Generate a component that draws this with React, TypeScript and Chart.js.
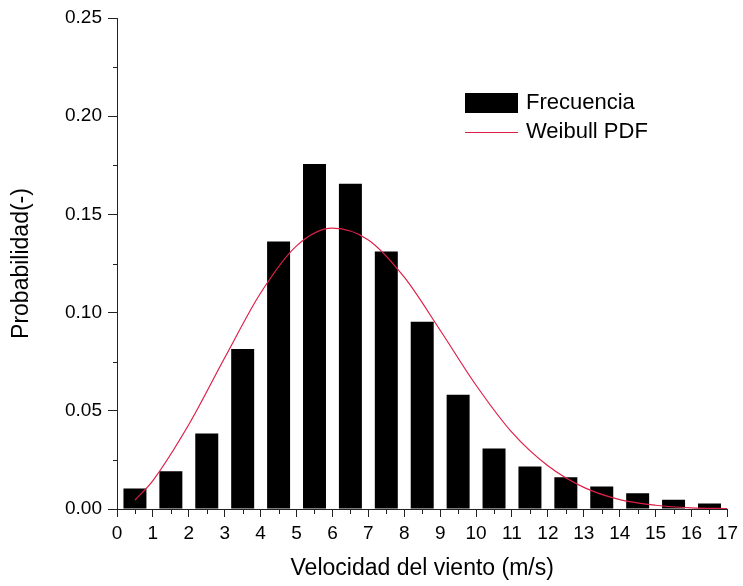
import React, { useEffect, useRef } from 'react';
import { Chart, registerables } from 'chart.js';

Chart.register(...registerables);

// ---- data ----
const binCenters = [0.5, 1.5, 2.5, 3.5, 4.5, 5.5, 6.5, 7.5, 8.5, 9.5, 10.5, 11.5, 12.5, 13.5, 14.5, 15.5, 16.5];
const frecuencia = [0.0104, 0.0192, 0.0384, 0.0815, 0.1362, 0.1757, 0.1656, 0.1311, 0.0954, 0.0582, 0.0308, 0.0216, 0.0162, 0.0114, 0.008, 0.0047, 0.0028];

const weibullX = [0.5, 1, 2, 3, 4, 5, 6, 7, 8, 9, 10, 11, 12, 13, 14, 15, 16, 17];
const weibullPdf = [0.0045, 0.0145, 0.043, 0.077, 0.11, 0.134, 0.143, 0.137, 0.118, 0.091, 0.063, 0.039, 0.022, 0.011, 0.0048, 0.0019, 0.0006, 0.0002];

const xTickValues = [0, 1, 2, 3, 4, 5, 6, 7, 8, 9, 10, 11, 12, 13, 14, 15, 16, 17];
const yTickValues = [0, 0.05, 0.1, 0.15, 0.2, 0.25];
const xMinorTicks = [0.5, 1.5, 2.5, 3.5, 4.5, 5.5, 6.5, 7.5, 8.5, 9.5, 10.5, 11.5, 12.5, 13.5, 14.5, 15.5, 16.5];
const yMinorTicks = [0.025, 0.075, 0.125, 0.175, 0.225];

const seriesLabels = ['Frecuencia', 'Weibull PDF'];
const xAxisTitle = 'Velocidad del viento (m/s)';
const yAxisTitle = 'Probabilidad(-)';

const FONT = '"Liberation Sans", Arial, Helvetica, sans-serif';
const AXIS_COLOR = '#222222';
const BAR_COLOR = '#000000';
const LINE_COLOR = 'rgb(222, 32, 72)';

const minorTicksPlugin = {
  id: 'minorTicks',
  afterDraw(chart: any) {
    const { ctx, scales } = chart;
    const x = scales.x;
    const y = scales.y;
    ctx.save();
    ctx.strokeStyle = AXIS_COLOR;
    ctx.lineWidth = 1;
    ctx.beginPath();
    xMinorTicks.forEach((v) => {
      const px = Math.round(x.getPixelForValue(v)) + 0.5;
      ctx.moveTo(px, y.bottom);
      ctx.lineTo(px, y.bottom + 5);
    });
    yMinorTicks.forEach((v) => {
      const py = Math.round(y.getPixelForValue(v)) + 0.5;
      ctx.moveTo(x.left, py);
      ctx.lineTo(x.left - 4, py);
    });
    ctx.stroke();
    ctx.restore();
  },
};

const insideLegendPlugin = {
  id: 'insideLegend',
  afterDraw(chart: any) {
    const { ctx, chartArea } = chart;
    const x0 = chartArea.left + 348;
    const y0 = chartArea.top + 75;
    const bw = 53;
    const bh = 20;
    ctx.save();
    chart.data.datasets.forEach((ds: any, i: number) => {
      const cy = y0 + bh / 2 + i * 29;
      if (ds.type === 'bar') {
        ctx.fillStyle = ds.backgroundColor;
        ctx.fillRect(x0, cy - bh / 2, bw, bh);
      } else {
        ctx.strokeStyle = ds.borderColor;
        ctx.lineWidth = 1;
        ctx.beginPath();
        ctx.moveTo(x0, Math.round(cy) + 0.5);
        ctx.lineTo(x0 + bw, Math.round(cy) + 0.5);
        ctx.stroke();
      }
      ctx.fillStyle = '#000';
      ctx.font = `22px ${FONT}`;
      ctx.textAlign = 'left';
      ctx.textBaseline = 'middle';
      ctx.fillText(ds.label, x0 + bw + 8, cy);
    });
    ctx.restore();
  },
};

export default function App() {
  const canvasRef = useRef<HTMLCanvasElement | null>(null);

  useEffect(() => {
    if (!canvasRef.current) return;
    const chart = new Chart(canvasRef.current, {
      type: 'bar',
      data: {
        datasets: [
          {
            type: 'bar',
            label: seriesLabels[0],
            data: binCenters.map((x, i) => ({ x, y: frecuencia[i] })),
            backgroundColor: BAR_COLOR,
            borderWidth: 0,
            barPercentage: 0.64,
            categoryPercentage: 1,
            order: 2,
          } as any,
          {
            type: 'line',
            label: seriesLabels[1],
            data: weibullX.map((x, i) => ({ x, y: weibullPdf[i] })),
            borderColor: LINE_COLOR,
            backgroundColor: LINE_COLOR,
            borderWidth: 1.2,
            pointRadius: 0,
            fill: false,
            cubicInterpolationMode: 'monotone',
            order: 1,
          } as any,
        ],
      },
      options: {
        animation: false,
        responsive: false,
        maintainAspectRatio: false,
        layout: { padding: { top: 18, right: 13, bottom: 0, left: 0 } },
        plugins: {
          legend: { display: false },
          tooltip: { enabled: false },
        },
        scales: {
          x: {
            type: 'linear',
            min: 0,
            max: 17,
            offset: false,
            afterBuildTicks: (scale: any) => {
              scale.ticks = xTickValues.map((v) => ({ value: v }));
            },
            afterFit: (scale: any) => {
              scale.height = 77;
            },
            ticks: {
              color: '#000',
              font: { family: FONT, size: 19 },
              padding: 5,
              maxRotation: 0,
              autoSkip: false,
              callback: (v: any) => String(v),
            },
            grid: {
              display: true,
              drawOnChartArea: false,
              drawTicks: true,
              tickLength: 8,
              tickColor: AXIS_COLOR,
              offset: false,
            },
            border: { display: true, color: AXIS_COLOR, width: 1 },
            title: {
              display: true,
              text: xAxisTitle,
              color: '#000',
              font: { family: FONT, size: 23 },
              padding: { top: 0, bottom: 4 },
            },
          },
          y: {
            type: 'linear',
            min: 0,
            max: 0.25,
            afterBuildTicks: (scale: any) => {
              scale.ticks = yTickValues.map((v) => ({ value: v }));
            },
            afterFit: (scale: any) => {
              scale.width = 117;
            },
            ticks: {
              color: '#000',
              font: { family: FONT, size: 19 },
              padding: 6,
              autoSkip: false,
              callback: (v: any) => Number(v).toFixed(2),
            },
            grid: {
              display: true,
              drawOnChartArea: false,
              drawTicks: true,
              tickLength: 9,
              tickColor: AXIS_COLOR,
            },
            border: { display: true, color: AXIS_COLOR, width: 1 },
            title: {
              display: true,
              text: yAxisTitle,
              color: '#000',
              font: { family: FONT, size: 23 },
              padding: { top: 8, bottom: 0 },
            },
          },
        },
      } as any,
      plugins: [minorTicksPlugin, insideLegendPlugin],
    });
    return () => chart.destroy();
  }, []);

  return (
    <div style={{ position: 'fixed', left: 0, top: 0, width: 743, height: 586, background: '#fff' }}>
      <canvas ref={canvasRef} width={743} height={586} style={{ width: 743, height: 586, display: 'block' }} />
    </div>
  );
}
